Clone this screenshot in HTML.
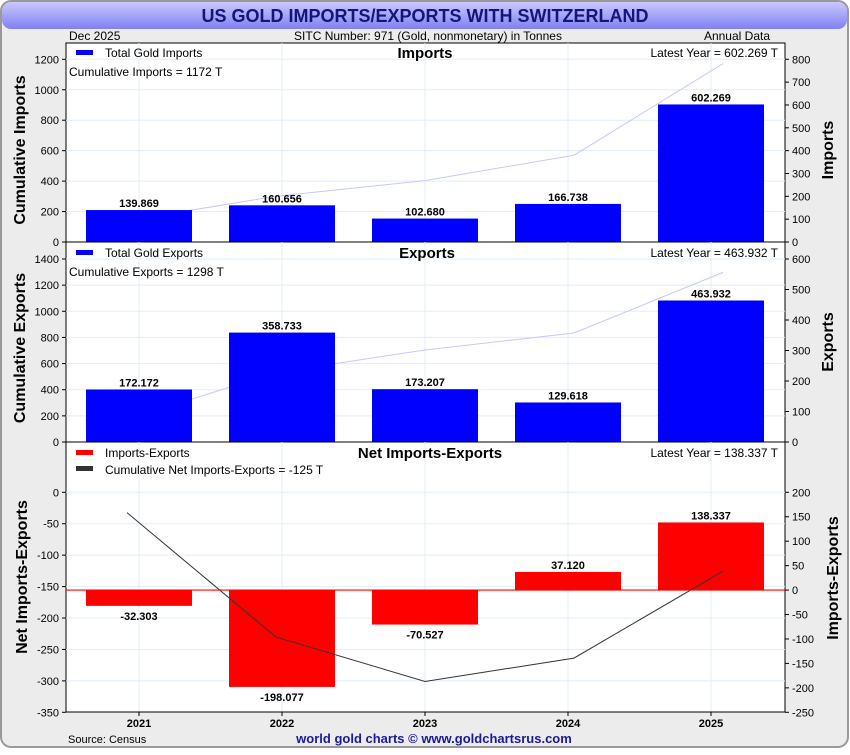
<!DOCTYPE html>
<html><head><meta charset="utf-8"><style>
body{margin:0;background:#fff;font-family:"Liberation Sans",sans-serif}
svg text{font-family:"Liberation Sans",sans-serif}
</style></head><body>
<svg id="c" width="850" height="750" xmlns="http://www.w3.org/2000/svg">
<defs><linearGradient id="tg" x1="0" y1="0" x2="0" y2="1"><stop offset="0" stop-color="#c8c8ff"/><stop offset="1" stop-color="#8080f0"/></linearGradient></defs>
<rect x="1" y="1" width="847" height="746" rx="10" fill="#ececec" stroke="#999" stroke-width="2"/>
<rect x="2" y="2" width="845" height="27" rx="9" fill="url(#tg)"/>
<text x="425" y="22" text-anchor="middle" font-size="18" font-weight="bold" fill="#14147a">US GOLD IMPORTS/EXPORTS WITH SWITZERLAND</text>
<text x="69" y="40" font-size="12">Dec  2025</text>
<text x="428" y="40" text-anchor="middle" font-size="12">SITC Number: 971 (Gold, nonmonetary) in Tonnes</text>
<text x="770" y="40" text-anchor="end" font-size="12">Annual Data</text>
<rect x="66" y="43" width="719" height="669" fill="#fff" stroke="#000"/>
<g id="g"></g>
<text x="68" y="743" font-size="11">Source: Census</text>
<text x="434" y="743" text-anchor="middle" font-size="13" font-weight="bold" fill="#1a1a9a">world gold charts © www.goldchartsrus.com</text>
</svg>
<script>
const years=["2021","2022","2023","2024","2025"];
const imports=[139.869,160.656,102.680,166.738,602.269];
const exportsV=[172.172,358.733,173.207,129.618,463.932];
const netV=[-32.303,-198.077,-70.527,37.120,138.337];
const impLeftTicks=[0,200,400,600,800,1000,1200];
const impRightTicks=[0,100,200,300,400,500,600,700,800];
const expLeftTicks=[0,200,400,600,800,1000,1200,1400];
const expRightTicks=[0,100,200,300,400,500,600];
const netLeftTicks=[0,-50,-100,-150,-200,-250,-300,-350];
const netRightTicks=[200,150,100,50,0,-50,-100,-150,-200,-250];

const NS="http://www.w3.org/2000/svg",G=document.getElementById('g');
function el(t,a,txt){const e=document.createElementNS(NS,t);for(const k in a)e.setAttribute(k,a[k]);if(txt!==undefined)e.textContent=txt;G.appendChild(e);return e;}
const xBar=i=>139+i*143, xLine=i=>127+i*149;
function lin(v0,y0,v1,y1){return v=>y0+(v-v0)*(y1-y0)/(v1-v0);}
function cum(a){let s=0;return a.map(v=>s+=v);}

function panel(o){
  const {top,bot,L,R,lt,rt,vals,lineVals,color,lineColor,name}=o;
  // grid
  years.forEach((y,i)=>{const g=el('line',{x1:xBar(i),x2:xBar(i),y1:top,y2:bot,stroke:'#dfeefa'});
    });
  lt.forEach(v=>{const y=L(v);if(y>top+2&&y<bot-1){const g=el('line',{x1:66,x2:785,y1:y,y2:y,stroke:'#dfeefa'});
    }
    el('line',{x1:62,x2:66,y1:y,y2:y,stroke:'#000'});
    const t=el('text',{x:59,y:y+4,'text-anchor':'end','font-size':11},v);
    });
  rt.forEach(v=>{const y=R(v);el('line',{x1:785,x2:789,y1:y,y2:y,stroke:'#000'});
    const t=el('text',{x:792,y:y+4,'font-size':11},v);
    });
  // cumulative line (below bars for imports/exports)
  const pts=lineVals.map((v,i)=>xLine(i)+','+L(v)).join(' ');
  const drawLine=()=>{const p=el('polyline',{points:pts,fill:'none',stroke:lineColor,'stroke-width':1});
    };
  if(!o.lineOnTop)drawLine();
  const z=R(0);
  vals.forEach((v,i)=>{const y=R(v);const r=el('rect',{x:xBar(i)-53,width:106,y:Math.min(y,z),height:Math.abs(y-z),fill:color});
    
    const ly=v>=0?y-3:y+14;
    const t=el('text',{x:xBar(i),y:ly,'text-anchor':'middle','font-size':11,'font-weight':'bold'},v.toFixed(3));
    });
  if(o.lineOnTop)drawLine();
  const b=el('line',{x1:66,x2:785,y1:bot,y2:bot,stroke:'#000'});
}

// Imports panel
panel({top:43,bot:242,L:lin(0,242,1200,59.3),R:lin(0,242,800,59.3),lt:impLeftTicks,rt:impRightTicks,
  vals:imports,lineVals:cum(imports),color:'#0000ff',lineColor:'#c8c8f8',name:'imports'});
// Exports panel
panel({top:242,bot:442,L:lin(0,442,1400,259),R:lin(0,442,600,259),lt:expLeftTicks,rt:expRightTicks,
  vals:exportsV,lineVals:cum(exportsV),color:'#0000ff',lineColor:'#c8c8f8',name:'exports'});
// Net panel
const netR=lin(200,492.3,-250,712.3);
panel({top:442,bot:712,L:lin(0,492.3,-350,712.3),R:netR,lt:netLeftTicks,rt:netRightTicks,
  vals:netV,lineVals:cum(netV),color:'#ff0000',lineColor:'#333',name:'net',lineOnTop:true});
el('line',{x1:66,x2:785,y1:netR(0),y2:netR(0),stroke:'#ff0000','stroke-width':1.2});

// x labels
years.forEach((y,i)=>{el('line',{x1:xBar(i),x2:xBar(i),y1:712,y2:716,stroke:'#000'});
  const t=el('text',{x:xBar(i),y:727,'text-anchor':'middle','font-size':11,'font-weight':'bold'},y);
  });

// panel titles and legends
function txt(x,y,s,a,n){const t=el('text',Object.assign({x,y,'font-size':12},a),s);return t;}
function key(x,y,c,n){const r=el('rect',{x,y,width:17,height:5,fill:c});}
key(76,50,'#0000ff','imports-legend-swatch');txt(105,57,'Total Gold Imports',{},'imports-legend-label');
txt(425,58,'Imports',{'text-anchor':'middle','font-size':15,'font-weight':'bold'},'imports-panel-title');
txt(778,57,'Latest Year = 602.269 T',{'text-anchor':'end'},'imports-latest');
txt(69,76,'Cumulative Imports = 1172 T',{},'imports-cumulative');
key(76,250,'#0000ff','exports-legend-swatch');txt(105,257,'Total Gold Exports',{},'exports-legend-label');
txt(427,258,'Exports',{'text-anchor':'middle','font-size':15,'font-weight':'bold'},'exports-panel-title');
txt(778,257,'Latest Year = 463.932 T',{'text-anchor':'end'},'exports-latest');
txt(69,276,'Cumulative Exports = 1298 T',{},'exports-cumulative');
key(76,450,'#ff0000','net-legend-swatch');txt(105,457,'Imports-Exports',{},'net-legend-label');
key(76,466,'#333','cum-net-legend-swatch');txt(105,474,'Cumulative Net Imports-Exports = -125 T',{},'cum-net-legend-label');
txt(430,458,'Net Imports-Exports',{'text-anchor':'middle','font-size':15,'font-weight':'bold'},'net-panel-title');
txt(778,457,'Latest Year = 138.337 T',{'text-anchor':'end'},'net-latest');

// axis titles
function vt(x,y,s,n){const t=el('text',{x,y,'text-anchor':'middle','font-size':16,'font-weight':'bold',transform:`rotate(-90 ${x} ${y})`},s);}
vt(25,150,'Cumulative Imports','left-axis-title-imports');
vt(833,150,'Imports','right-axis-title-imports');
vt(25,348,'Cumulative Exports','left-axis-title-exports');
vt(833,342,'Exports','right-axis-title-exports');
vt(27,577,'Net Imports-Exports','left-axis-title-net');
vt(838,578,'Imports-Exports','right-axis-title-net');
</script>
</body></html>
